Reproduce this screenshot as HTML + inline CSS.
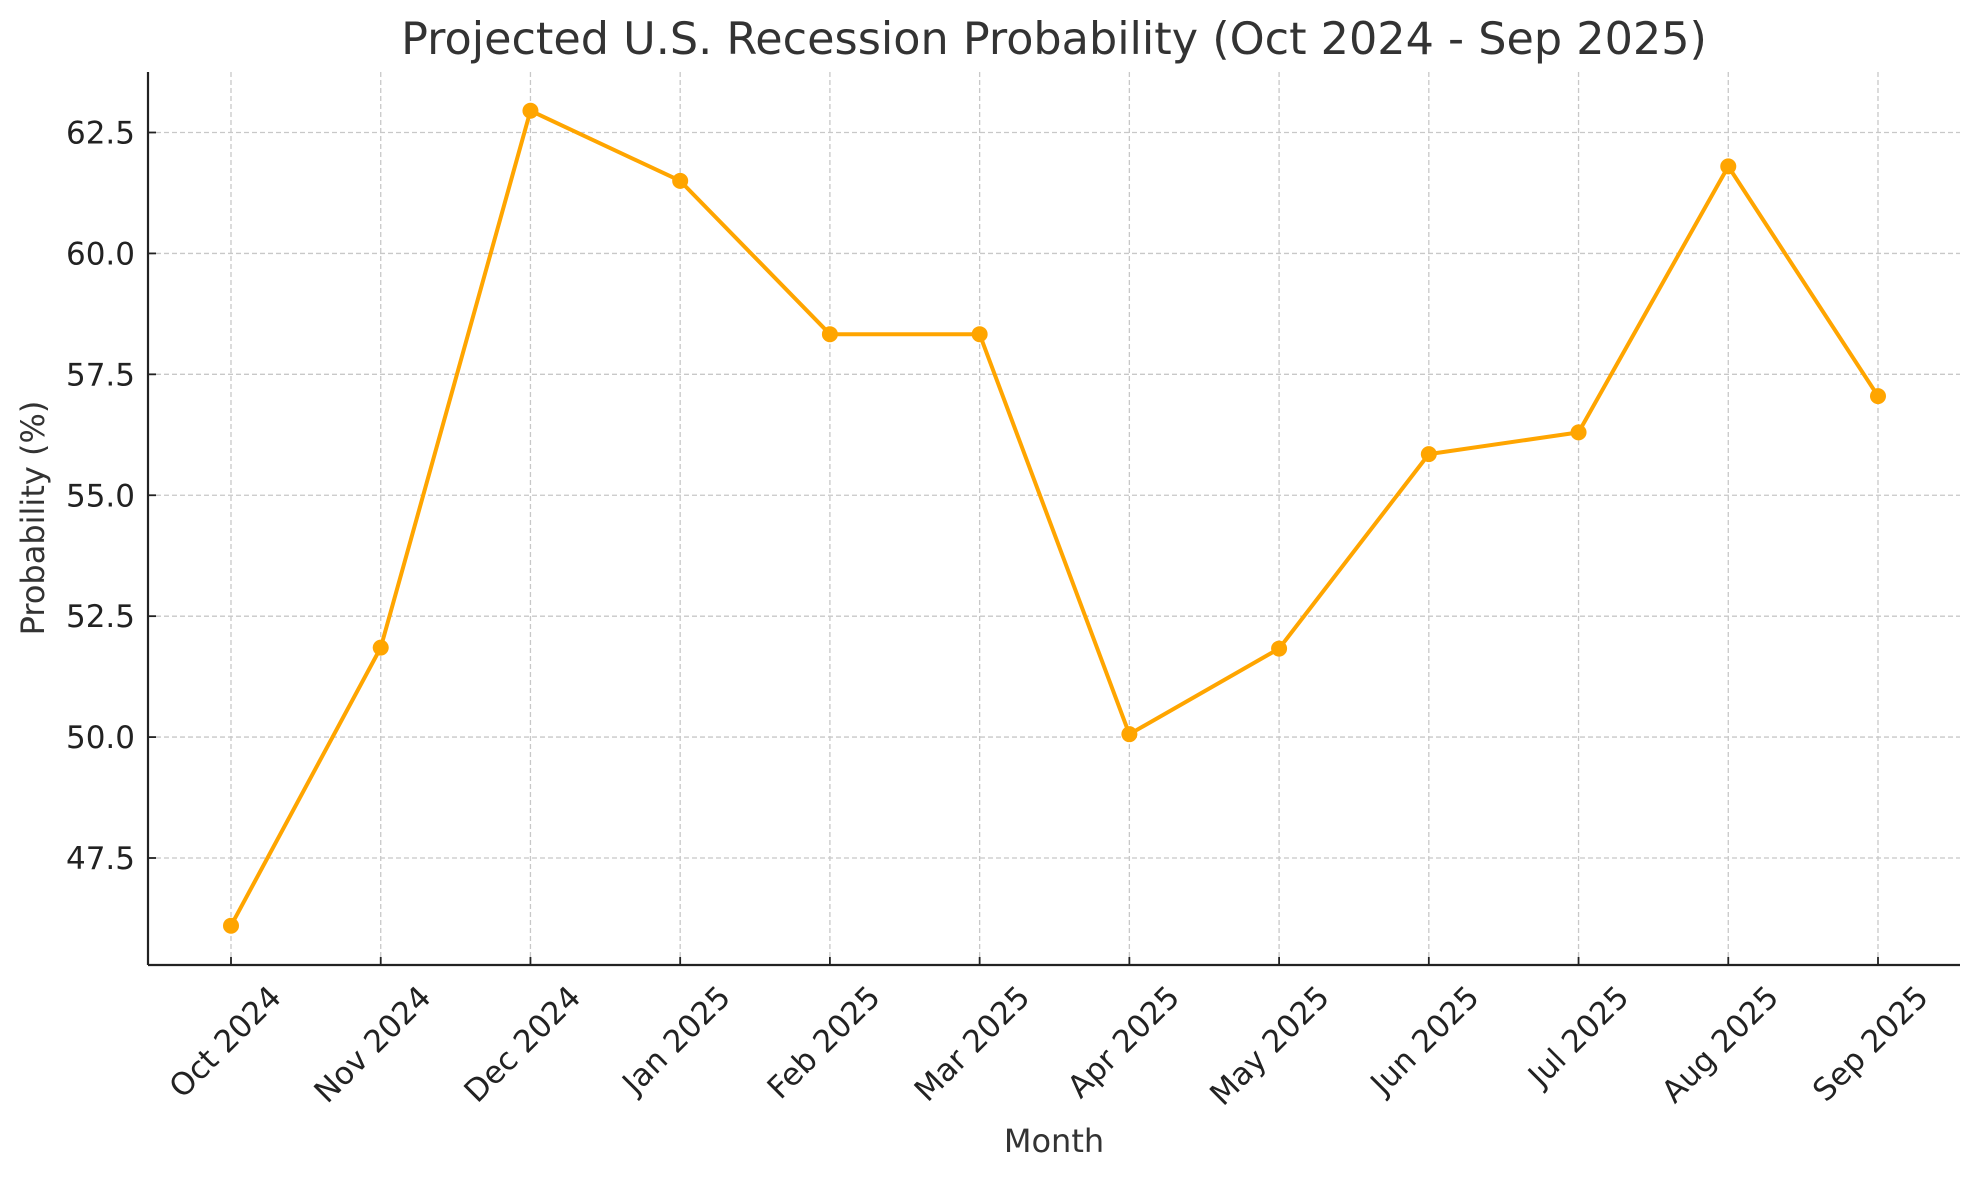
<!DOCTYPE html>
<html><head><meta charset="utf-8"><style>
html,body{margin:0;padding:0;background:#fff;}
svg{display:block;font-family:"DejaVu Sans","Liberation Sans",sans-serif;}
</style></head><body>
<svg id="chart" width="1979" height="1180" viewBox="0 0 1979 1180" xmlns="http://www.w3.org/2000/svg">
<rect width="1979" height="1180" fill="#fff"/>
<text x="1054" y="54" font-size="44.5" text-anchor="middle" fill="#333">Projected U.S. Recession Probability (Oct 2024 - Sep 2025)</text>
<g id="grid"></g>
<g id="axes"></g>
<g id="series"></g>
<text x="1054" y="1152" font-size="32" text-anchor="middle" fill="#333">Month</text>
<text transform="translate(44,518) rotate(-90)" font-size="32" text-anchor="middle" fill="#333">Probability (%)</text>
</svg>
<script>
const categories = ["Oct 2024","Nov 2024","Dec 2024","Jan 2025","Feb 2025","Mar 2025","Apr 2025","May 2025","Jun 2025","Jul 2025","Aug 2025","Sep 2025"];
const probabilities = [46.1, 51.85, 62.95, 61.5, 58.33, 58.33, 50.06, 51.83, 55.85, 56.3, 61.8, 57.05];
const yTicks = [47.5, 50.0, 52.5, 55.0, 57.5, 60.0, 62.5];
const yTickLabels = ["47.5","50.0","52.5","55.0","57.5","60.0","62.5"];

const NS = "http://www.w3.org/2000/svg";
const L = 148, R = 1960, T = 72, B = 965;
const x0 = 231, x1 = 1878;
function xScale(i){ return x0 + (x1 - x0) * i / (categories.length - 1); }
function yScale(v){ return 132.5 + (62.5 - v) * (858 - 132.5) / 15; }
function mk(tag, attrs, parent){ const e = document.createElementNS(NS, tag); for (const k in attrs) e.setAttribute(k, attrs[k]); parent.appendChild(e); return e; }

const grid = document.getElementById('grid'), axes = document.getElementById('axes'), series = document.getElementById('series');

yTicks.forEach((v, i) => {
  const y = yScale(v);
  const g = mk('line', {x1: L, x2: R, y1: y, y2: y, stroke: '#c8c8c8', 'stroke-width': 1.3, 'stroke-dasharray': '5,3'}, grid);
  
  
  const t = mk('line', {x1: L, x2: L + 8, y1: y, y2: y, stroke: '#222', 'stroke-width': 1.8}, axes);
  
  
  const lb = mk('text', {x: L - 13, y: y + 11, 'font-size': 31, 'text-anchor': 'end', fill: '#222'}, axes);
  lb.textContent = yTickLabels[i];
  
  
});

categories.forEach((c, i) => {
  const x = xScale(i);
  const g = mk('line', {x1: x, x2: x, y1: T, y2: B, stroke: '#c8c8c8', 'stroke-width': 1.3, 'stroke-dasharray': '5,3'}, grid);
  
  
  const t = mk('line', {x1: x, x2: x, y1: B - 8, y2: B, stroke: '#222', 'stroke-width': 1.8}, axes);
  
  
  const lb = mk('text', {transform: `translate(${x + 52},${B + 34}) rotate(-45)`, 'font-size': 31, 'text-anchor': 'end', fill: '#222'}, axes);
  lb.textContent = c;
  
  
});

const la = mk('line', {x1: L, x2: L, y1: T, y2: B, stroke: '#222', 'stroke-width': 2.2}, axes);


const ba = mk('line', {x1: L, x2: R, y1: B, y2: B, stroke: '#222', 'stroke-width': 2.2}, axes);



const pts = probabilities.map((v, i) => xScale(i) + ',' + yScale(v)).join(' ');
const line = mk('polyline', {points: pts, fill: 'none', stroke: '#FFA500', 'stroke-width': 4, 'stroke-linejoin': 'round'}, series);


probabilities.forEach((v, i) => {
  const p = mk('circle', {cx: xScale(i), cy: yScale(v), r: 8, fill: '#FFA500'}, series);
  
  
});
</script>
</body></html>
